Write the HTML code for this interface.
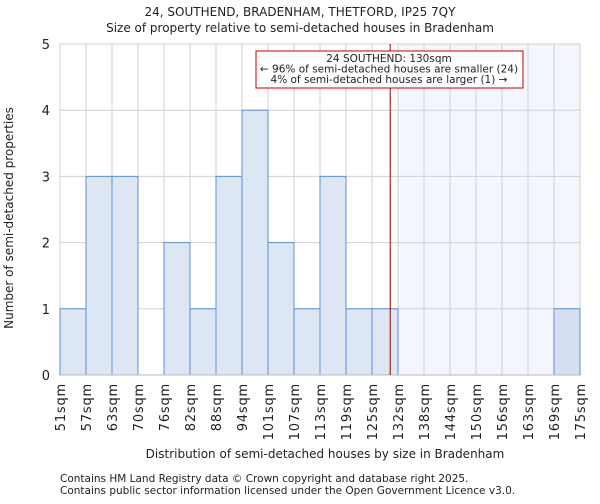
<!DOCTYPE html>
<html><head><meta charset="utf-8"><style>
body{margin:0;background:#fff;font-family:"DejaVu Sans","Liberation Sans",sans-serif;}
svg text{font-family:"DejaVu Sans","Liberation Sans",sans-serif;fill:#222;}
</style></head><body>
<svg id="chart" width="600" height="500">
<text x="300" y="16" font-size="12" text-anchor="middle">24, SOUTHEND, BRADENHAM, THETFORD, IP25 7QY</text>
<text x="300" y="32" font-size="12" text-anchor="middle">Size of property relative to semi-detached houses in Bradenham</text>
<g id="plot"></g>
<text x="325" y="458" font-size="12" text-anchor="middle">Distribution of semi-detached houses by size in Bradenham</text>
<text transform="translate(13,218) rotate(-90)" font-size="12" text-anchor="middle">Number of semi-detached properties</text>
<text x="60" y="482" font-size="10.5" fill="#444">Contains HM Land Registry data © Crown copyright and database right 2025.</text>
<text x="60" y="494" font-size="10.5" fill="#444">Contains public sector information licensed under the Open Government Licence v3.0.</text>
</svg>
<script>
const tickLabels=["51sqm","57sqm","63sqm","70sqm","76sqm","82sqm","88sqm","94sqm","101sqm","107sqm","113sqm","119sqm","125sqm","132sqm","138sqm","144sqm","150sqm","156sqm","163sqm","169sqm","175sqm"];
const counts=[1,3,3,0,2,1,3,4,2,1,3,1,1,0,0,0,0,0,0,1];
const yTicks=[0,1,2,3,4,5];
const markerBinPos=12.7;
const highlightFromBin=13;
const X0=60,X1=580,Y0=375,Y1=44,YMAX=5;
const bw=(X1-X0)/counts.length;
const xs=i=>X0+i*bw;
const ys=v=>Y0-(Y0-Y1)*v/YMAX;
const g=document.getElementById('plot');
const NS='http://www.w3.org/2000/svg';
function mk(t,a){const e=document.createElementNS(NS,t);for(const k in a)e.setAttribute(k,a[k]);g.appendChild(e);return e;}
let e=mk('rect',{x:xs(highlightFromBin),y:Y1,width:X1-xs(highlightFromBin),height:Y0-Y1,fill:'#f3f6fd'});


for(let i=0;i<=counts.length;i++){e=mk('line',{x1:xs(i),x2:xs(i),y1:Y1,y2:Y0,stroke:'#d0d0d0'});

}
yTicks.forEach(v=>{e=mk('line',{x1:X0,x2:X1,y1:ys(v),y2:ys(v),stroke:'#d0d0d0'});


const t=mk('text',{x:X0-10,y:ys(v)+5,'font-size':13,'text-anchor':'end'});t.textContent=v;

});
counts.forEach((c,i)=>{if(!c)return;e=mk('rect',{x:xs(i),y:ys(c),width:bw,height:Y0-ys(c),fill:i>=highlightFromBin?'#d4e0f1':'#dde7f4',stroke:'#5b8fd6','stroke-width':1});

});
tickLabels.forEach((l,i)=>{const t=mk('text',{transform:`translate(${xs(i)+5},${Y0+8}) rotate(-90)`,'font-size':13,'letter-spacing':'0.8','text-anchor':'end'});t.textContent=l;

});
e=mk('line',{x1:X0,x2:X1,y1:Y0,y2:Y0,stroke:'#bbb'});


const mx=xs(markerBinPos);
e=mk('line',{x1:mx,x2:mx,y1:Y1,y2:Y0,stroke:'#900000'});


e=mk('rect',{x:256,y:51,width:267,height:37,fill:'#fff',stroke:'#c00000'});


["24 SOUTHEND: 130sqm","← 96% of semi-detached houses are smaller (24)","4% of semi-detached houses are larger (1) →"].forEach((s,k)=>{const t=mk('text',{x:389,y:62+k*10.5,'font-size':10.5,'text-anchor':'middle'});t.textContent=s;

});
</script>
</body></html>
